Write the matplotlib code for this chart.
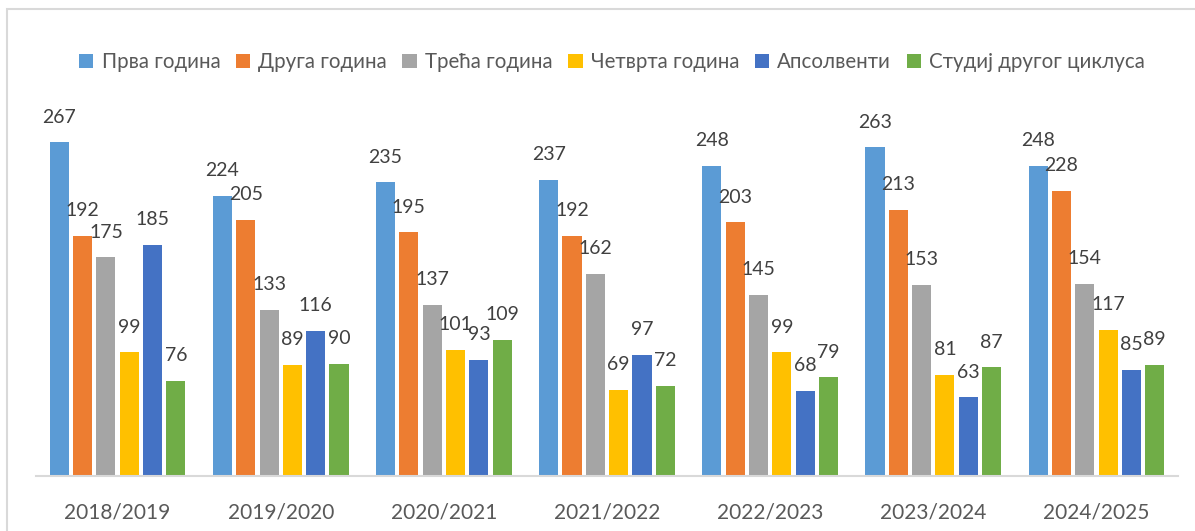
import matplotlib.pyplot as plt
import numpy as np
from matplotlib.patches import Rectangle

plt.rcParams["font.family"] = ["Lato", "DejaVu Sans"]

years = ["2018/2019", "2019/2020", "2020/2021", "2021/2022", "2022/2023", "2023/2024", "2024/2025"]
series_names = ["Прва година", "Друга година", "Трећа година", "Четврта година", "Апсолвенти", "Студиј другог циклуса"]
prva = [267, 224, 235, 237, 248, 263, 248]
druga = [192, 205, 195, 192, 203, 213, 228]
treca = [175, 133, 137, 162, 145, 153, 154]
cetvrta = [99, 89, 101, 69, 99, 81, 117]
apsolventi = [185, 116, 93, 97, 68, 63, 85]
drugi_ciklus = [76, 90, 109, 72, 79, 87, 89]
colors = ["#5B9BD5", "#ED7D31", "#A5A5A5", "#FFC000", "#4472C4", "#70AD47"]

W, H = 1195, 531
fig = plt.figure(figsize=(W / 100, H / 100), dpi=100)
ax = fig.add_axes([36 / W, 55 / H, (1178 - 36) / W, 375 / H])

# light chart border (cropped on right and bottom)
fig.patches.append(Rectangle((7 / W, -0.1), 1.2, (H - 9) / H + 0.1, transform=fig.transFigure,
                             fill=False, edgecolor="#D9D9D9", linewidth=1.5))

x = np.arange(len(years))
step = 0.143
width = 0.117
for i, (name, vals) in enumerate(zip(series_names, [prva, druga, treca, cetvrta, apsolventi, drugi_ciklus])):
    pos = x + (i - 2.5) * step
    ax.bar(pos, vals, width, color=colors[i], label=name)
    for px, v in zip(pos, vals):
        ax.annotate(str(v), (px, v), xytext=(0, 12), textcoords="offset points",
                    ha="center", va="bottom", fontsize=14, color="#404040")

ax.set_xlim(-0.5, len(years) - 0.5)
ax.set_ylim(0, 300)
ax.set_xticks(x)
ax.set_xticklabels(years, fontsize=15, color="#595959")
ax.tick_params(axis="x", length=0, pad=19)
ax.set_yticks([])
for s in ["top", "right", "left"]:
    ax.spines[s].set_visible(False)
ax.spines["bottom"].set_color("#D9D9D9")
ax.spines["bottom"].set_linewidth(1.5)

fig.legend(loc="center", bbox_to_anchor=(612 / W, 1 - 62 / H), ncol=6, frameon=False,
           fontsize=14.8, handlelength=0.7, handleheight=0.7, handletextpad=0.4,
           columnspacing=0.75, labelcolor="#595959")

fig.savefig("out.png", dpi=100)
